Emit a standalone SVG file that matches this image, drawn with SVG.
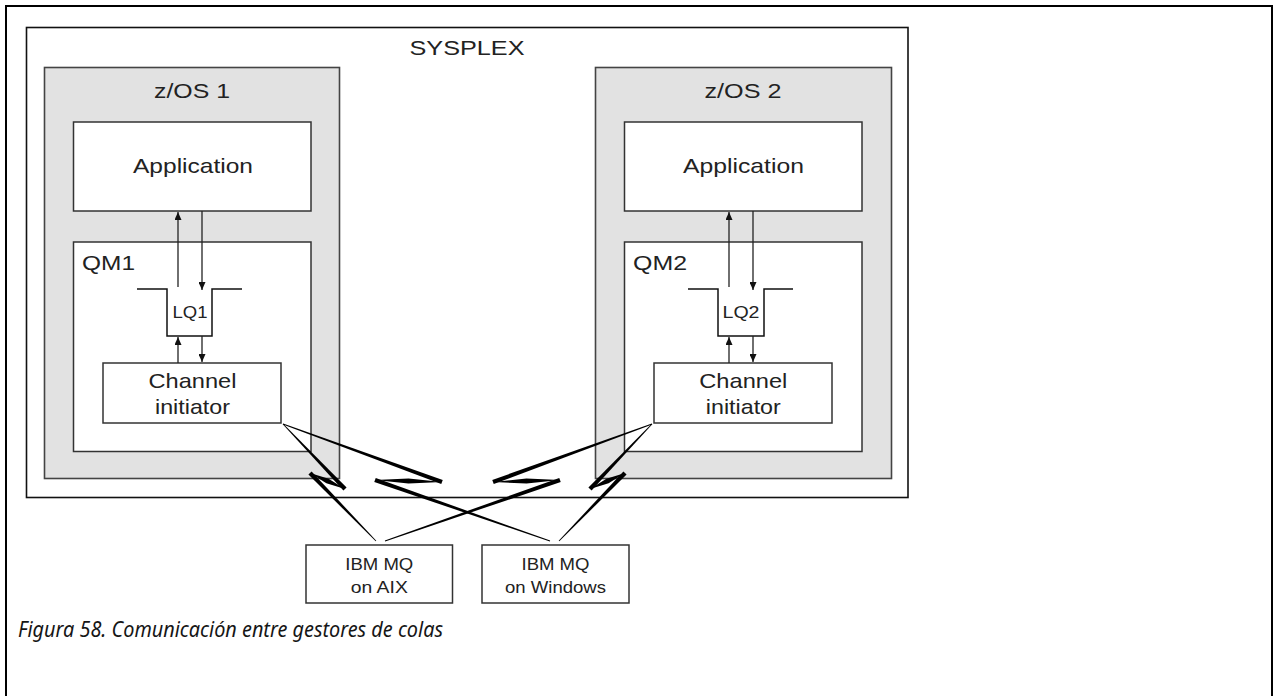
<svg xmlns="http://www.w3.org/2000/svg" width="1275" height="696" viewBox="0 0 1275 696">
<defs>
<marker id="ah" markerWidth="8" markerHeight="7" refX="8" refY="3.5" orient="auto" markerUnits="userSpaceOnUse">
<path d="M0,0 L8,3.5 L0,7 z" fill="#111"/>
</marker>
<style>
.frame{fill:none;stroke:#000;stroke-width:2}
.sysplex{fill:#fff;stroke:#111;stroke-width:1.6}
.zos{fill:#e2e2e2;stroke:#444;stroke-width:1.6}
.box{fill:#fff;stroke:#333;stroke-width:1.5}
.q{fill:none;stroke:#111;stroke-width:1.5}
.arr{stroke:#222;stroke-width:1.3;fill:none;marker-end:url(#ah)}
.bolt{fill:#000}
.t{font-family:"Liberation Sans",Arial,sans-serif;fill:#222;text-anchor:middle}
.big{font-size:21px}
.sm{font-size:16px}
.mq{font-size:17px}
.cap{font-family:"Noto Sans","Open Sans",sans-serif;font-style:italic;font-size:21px;fill:#161616}
</style>
</defs>
<rect class="frame" x="6" y="6" width="1266" height="710"/>
<g id="sysplex">
<rect class="sysplex" x="26.5" y="27.5" width="881.5" height="470"/>
<text class="t big" x="467" y="55" textLength="115" lengthAdjust="spacingAndGlyphs">SYSPLEX</text>
</g>
<g id="zos1">
<rect class="zos" x="44.5" y="67.5" width="295" height="411"/>
<text class="t big" x="192" y="98" textLength="76" lengthAdjust="spacingAndGlyphs">z/OS 1</text>
</g>
<g id="zos2">
<rect class="zos" x="595.5" y="67.5" width="296" height="411"/>
<text class="t big" x="743" y="98" textLength="77" lengthAdjust="spacingAndGlyphs">z/OS 2</text>
</g>
<g id="app1">
<rect class="box" x="73.5" y="122" width="237.5" height="89"/>
<text class="t big" x="193" y="173" textLength="120" lengthAdjust="spacingAndGlyphs">Application</text>
</g>
<g id="app2">
<rect class="box" x="624.5" y="122" width="237.5" height="89"/>
<text class="t big" x="743.5" y="173" textLength="121" lengthAdjust="spacingAndGlyphs">Application</text>
</g>
<g id="qm1">
<rect class="box" x="73.5" y="242" width="237.5" height="209.5"/>
<text class="t big" x="82" y="270" style="text-anchor:start" textLength="53" lengthAdjust="spacingAndGlyphs">QM1</text>
</g>
<g id="qm2">
<rect class="box" x="624.5" y="242" width="237.5" height="209.5"/>
<text class="t big" x="633" y="270" style="text-anchor:start" textLength="54" lengthAdjust="spacingAndGlyphs">QM2</text>
</g>
<g id="lq1">
<path class="q" d="M137,289 H167 V336 H212 V289 H242"/>
<text class="t sm" x="190" y="318" textLength="35" lengthAdjust="spacingAndGlyphs">LQ1</text>
</g>
<g id="lq2">
<path class="q" d="M688,289 H718 V336 H764 V289 H793"/>
<text class="t sm" x="741" y="318" textLength="37" lengthAdjust="spacingAndGlyphs">LQ2</text>
</g>
<g id="ci1">
<rect class="box" x="103" y="363" width="178" height="60"/>
<text class="t big" x="192.5" y="388" textLength="88" lengthAdjust="spacingAndGlyphs">Channel</text>
<text class="t big" x="192.5" y="414" textLength="75" lengthAdjust="spacingAndGlyphs">initiator</text>
</g>
<g id="ci2">
<rect class="box" x="654" y="363" width="178" height="60"/>
<text class="t big" x="743.3" y="388" textLength="88" lengthAdjust="spacingAndGlyphs">Channel</text>
<text class="t big" x="743.3" y="414" textLength="75" lengthAdjust="spacingAndGlyphs">initiator</text>
</g>
<g id="aix">
<rect class="box" x="306" y="545" width="146.5" height="58"/>
<text class="t mq" x="379.3" y="570" textLength="68" lengthAdjust="spacingAndGlyphs">IBM MQ</text>
<text class="t mq" x="379.3" y="593" textLength="57" lengthAdjust="spacingAndGlyphs">on AIX</text>
</g>
<g id="windows">
<rect class="box" x="482" y="545" width="147" height="58"/>
<text class="t mq" x="555.5" y="570" textLength="68" lengthAdjust="spacingAndGlyphs">IBM MQ</text>
<text class="t mq" x="555.5" y="593" textLength="101" lengthAdjust="spacingAndGlyphs">on Windows</text>
</g>
<g id="connectors">
<line class="arr" x1="178" y1="287" x2="178" y2="212"/>
<line class="arr" x1="202" y1="211" x2="202" y2="290"/>
<line class="arr" x1="178" y1="363" x2="178" y2="337"/>
<line class="arr" x1="202" y1="336" x2="202" y2="362"/>
<line class="arr" x1="729" y1="287" x2="729" y2="212"/>
<line class="arr" x1="753" y1="211" x2="753" y2="290"/>
<line class="arr" x1="729" y1="363" x2="729" y2="337"/>
<line class="arr" x1="753" y1="336" x2="753" y2="362"/>
<g class="bolt">
<polygon points="282.71,424.28 343.41,490.52 346.59,487.48 283.29,423.72"/>
<polygon points="345,489 328.58,478.64 310,473 326.42,483.36"/>
<polygon points="308.42,474.53 375.71,541.28 376.29,540.72 311.58,471.47"/>
<polygon points="282.86,424.38 441.25,484.07 442.75,479.93 283.14,423.62"/>
<polygon points="442,482 408.58,478.40 375,480 408.42,483.60"/>
<polygon points="374.28,482.08 549.87,541.38 550.13,540.62 375.72,477.92"/>
<polygon points="652.14,424.38 493.75,484.07 492.25,479.93 651.86,423.62"/>
<polygon points="493,482 526.42,478.40 560,480 526.58,483.60"/>
<polygon points="560.72,482.08 385.13,541.38 384.87,540.62 559.28,477.92"/>
<polygon points="652.29,424.28 591.59,490.52 588.41,487.48 651.71,423.72"/>
<polygon points="590,489 606.42,478.64 625,473 608.58,483.36"/>
<polygon points="626.58,474.53 559.29,541.28 558.71,540.72 623.42,471.47"/>
</g>
</g>
<text class="cap" x="18" y="637" textLength="425" lengthAdjust="spacingAndGlyphs">Figura 58. Comunicación entre gestores de colas</text>
</svg>
